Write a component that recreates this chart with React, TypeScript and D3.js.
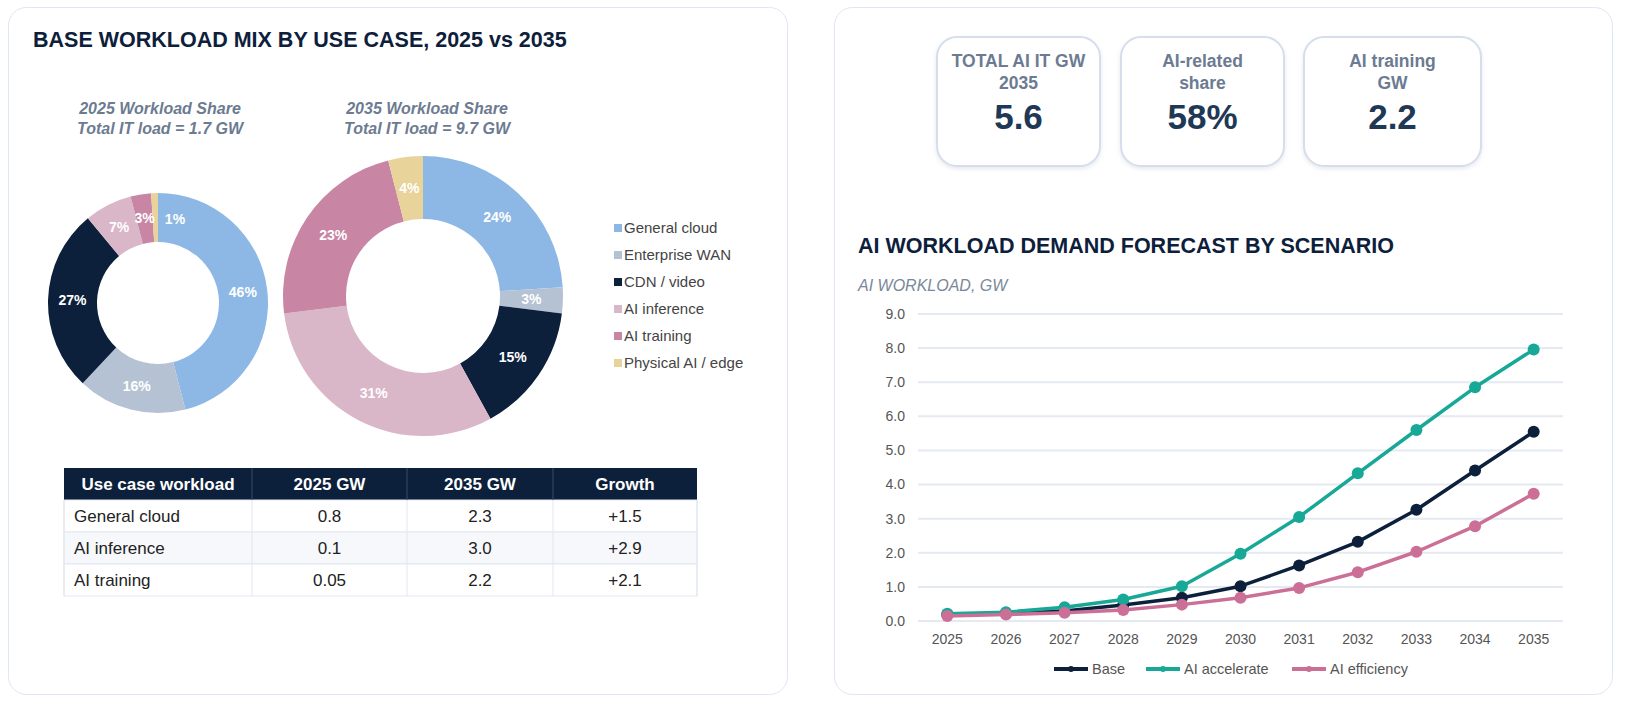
import React, { useEffect } from "react";
import * as d3 from "d3";

// workload mix by use case (percent of total IT load)
const useCases = ["General cloud", "Enterprise WAN", "CDN / video", "AI inference", "AI training", "Physical AI / edge"];
const share2025 = [46, 16, 27, 7, 3, 1];
const share2035 = [24, 3, 15, 31, 23, 4];
const caseColors = ["#8db8e5", "#b5c2d3", "#0d203b", "#d9b6c8", "#c886a4", "#e8d39a"];

// summary table
const tableHeader = ["Use case workload", "2025 GW", "2035 GW", "Growth"];
const tableCases = ["General cloud", "AI inference", "AI training"];
const tableGw2025 = ["0.8", "0.1", "0.05"];
const tableGw2035 = ["2.3", "3.0", "2.2"];
const tableGrowth = ["+1.5", "+2.9", "+2.1"];

// KPI cards
const kpiLabels = [["TOTAL AI IT GW", "2035"], ["AI-related", "share"], ["AI training", "GW"]];
const kpiValues = ["5.6", "58%", "2.2"];

// scenario forecast, GW
const years = ["2025", "2026", "2027", "2028", "2029", "2030", "2031", "2032", "2033", "2034", "2035"];
const baseGw = [0.19, 0.23, 0.29, 0.47, 0.68, 1.02, 1.63, 2.32, 3.26, 4.41, 5.55];
const accelGw = [0.21, 0.26, 0.4, 0.63, 1.02, 1.97, 3.05, 4.33, 5.6, 6.85, 7.96];
const effGw = [0.15, 0.19, 0.24, 0.32, 0.48, 0.68, 0.97, 1.43, 2.03, 2.78, 3.73];
const scenarioNames = ["Base", "AI accelerate", "AI efficiency"];
const scenarioColors = ["#0d203b", "#17a897", "#cb6f97"];

const FONT = "'Liberation Sans', Arial, Helvetica, sans-serif";
const NAVY = "#0d203b";
const SLATE = "#6c7b91";

function Donut({ values, cx, cy, outer, inner }: { values: number[]; cx: number; cy: number; outer: number; inner: number }) {
  const pie = d3.pie<number>().sort(null).value((d) => d);
  const arcs = pie(values);
  const arc = d3.arc<d3.PieArcDatum<number>>().innerRadius(inner).outerRadius(outer);
  const mid = (inner + outer) / 2;
  return (
    <g transform={`translate(${cx},${cy})`}>
      {arcs.map((a, i) => (
        <path key={i} d={arc(a) || ""} fill={caseColors[i]} />
      ))}
      {arcs.map((a, i) => {
        // tiny slices get their label nudged clockwise so it doesn't collide with the neighbour
        const ang = a.data < 2 ? a.endAngle + 0.2 : (a.startAngle + a.endAngle) / 2;
        const x = Math.sin(ang) * mid;
        const y = -Math.cos(ang) * mid;
        return (
          <text key={"l" + i} x={x} y={y} dy="0.35em" textAnchor="middle" fill="#fff" fontSize={14} fontWeight="bold">
            {a.data}%
          </text>
        );
      })}
    </g>
  );
}

function LeftPanel() {
  const colX = [64, 252, 407, 553, 697];
  const rowY = d3.range(5).map((i) => 468 + i * 32);
  const rows = tableCases.map((c, i) => [c, tableGw2025[i], tableGw2035[i], tableGrowth[i]]);
  return (
    <g>
      <rect x={8.5} y={7.5} width={779} height={687} rx={18} fill="#fff" stroke="#dfe7f2" />
      <text x={33} y={47} fontSize={21.5} fontWeight="bold" fill={NAVY}>
        BASE WORKLOAD MIX BY USE CASE, 2025 vs 2035
      </text>

      <g fill={SLATE} fontSize={16} fontWeight="bold" fontStyle="italic" textAnchor="middle">
        <text x={160} y={114}>2025 Workload Share</text>
        <text x={160} y={134}>Total IT load = 1.7 GW</text>
        <text x={427} y={114}>2035 Workload Share</text>
        <text x={427} y={134}>Total IT load = 9.7 GW</text>
      </g>

      <Donut values={share2025} cx={158} cy={303} outer={110} inner={61} />
      <Donut values={share2035} cx={423} cy={296} outer={140} inner={77} />

      <g fontSize={15} fill="#444">
        {useCases.map((u, i) => (
          <g key={u} transform={`translate(614,${228 + i * 27})`}>
            <rect x={0} y={-4} width={8} height={8} fill={caseColors[i]} />
            <text x={10} y={0} dy="0.35em">{u}</text>
          </g>
        ))}
      </g>

      <g>
        <rect x={colX[0]} y={rowY[0]} width={colX[4] - colX[0]} height={32} fill={NAVY} />
        {rows.map((r, i) => (
          <rect key={i} x={colX[0]} y={rowY[i + 1]} width={colX[4] - colX[0]} height={32} fill={i === 1 ? "#f6f8fc" : "#fff"} stroke="#e1e7f0" />
        ))}
        {colX.slice(1, 4).map((x, i) => (
          <g key={i}>
            <line x1={x} x2={x} y1={rowY[0]} y2={rowY[1]} stroke="#3a4b66" />
            <line x1={x} x2={x} y1={rowY[1]} y2={rowY[4]} stroke="#e1e7f0" />
          </g>
        ))}
        <line x1={colX[0]} x2={colX[0]} y1={rowY[1]} y2={rowY[4]} stroke="#e1e7f0" />
        <line x1={colX[4]} x2={colX[4]} y1={rowY[1]} y2={rowY[4]} stroke="#e1e7f0" />
        {tableHeader.map((h, j) => (
          <text key={h} x={(colX[j] + colX[j + 1]) / 2} y={rowY[0] + 16} dy="0.35em" textAnchor="middle" fontSize={17} fontWeight="bold" fill="#fff">
            {h}
          </text>
        ))}
        {rows.map((r, i) =>
          r.map((v, j) => (
            <text
              key={i + "-" + j}
              x={j === 0 ? colX[0] + 10 : (colX[j] + colX[j + 1]) / 2}
              y={rowY[i + 1] + 16}
              dy="0.35em"
              textAnchor={j === 0 ? "start" : "middle"}
              fontSize={17}
              fill="#222"
            >
              {v}
            </text>
          ))
        )}
      </g>
    </g>
  );
}

function RightPanel() {
  const cardX = [937, 1121, 1304];
  const cardW = [163, 163, 177];

  const x = d3.scalePoint<string>().domain(years).range([918, 1563]).padding(0.5);
  const y = d3.scaleLinear().domain([0, 9]).range([621, 314]);
  const ticks = d3.range(0, 10);
  const series = [baseGw, accelGw, effGw];
  const line = d3
    .line<number>()
    .x((_, i) => x(years[i]) as number)
    .y((d) => y(d));

  const legendX = [1054, 1146, 1292];

  return (
    <g>
      <defs>
        <filter id="cardShadow" x="-10%" y="-10%" width="120%" height="125%">
          <feDropShadow dx={0} dy={2} stdDeviation={2} floodColor="#9aa8bd" floodOpacity={0.25} />
        </filter>
      </defs>
      <rect x={834.5} y={7.5} width={778} height={687} rx={18} fill="#fff" stroke="#dfe7f2" />

      {kpiValues.map((v, i) => {
        const cx = cardX[i] + cardW[i] / 2;
        return (
          <g key={v}>
            <rect x={cardX[i]} y={37} width={cardW[i]} height={129} rx={20} fill="#fff" stroke="#d5dfec" strokeWidth={2} filter="url(#cardShadow)" />
            <text x={cx} y={66.5} textAnchor="middle" fontSize={17.5} fontWeight="bold" fill={SLATE}>{kpiLabels[i][0]}</text>
            <text x={cx} y={89} textAnchor="middle" fontSize={17.5} fontWeight="bold" fill={SLATE}>{kpiLabels[i][1]}</text>
            <text x={cx} y={129} textAnchor="middle" fontSize={35} fontWeight="bold" fill="#1f3855">{v}</text>
          </g>
        );
      })}

      <text x={858} y={253} fontSize={21.5} fontWeight="bold" fill={NAVY}>
        AI WORKLOAD DEMAND FORECAST BY SCENARIO
      </text>
      <text x={858} y={291} fontSize={16} fontStyle="italic" fill="#7a889b">
        AI WORKLOAD, GW
      </text>

      {ticks.map((t) => (
        <g key={t}>
          <line x1={918} x2={1563} y1={y(t)} y2={y(t)} stroke="#e4e9f2" strokeWidth={2} />
          <text x={905} y={y(t)} dy="0.35em" textAnchor="end" fontSize={14} fill="#555">
            {d3.format(".1f")(t)}
          </text>
        </g>
      ))}
      {years.map((yr) => (
        <text key={yr} x={x(yr)} y={639} dy="0.35em" textAnchor="middle" fontSize={14} fill="#555">
          {yr}
        </text>
      ))}

      {series.map((s, k) => (
        <g key={k}>
          <path d={line(s) || ""} fill="none" stroke={scenarioColors[k]} strokeWidth={3.5} strokeLinejoin="round" />
          {s.map((d, i) => (
            <circle key={i} cx={x(years[i])} cy={y(d)} r={6} fill={scenarioColors[k]} />
          ))}
        </g>
      ))}

      {scenarioNames.map((n, k) => (
        <g key={n} transform={`translate(${legendX[k]},669)`}>
          <line x1={0} x2={34} y1={0} y2={0} stroke={scenarioColors[k]} strokeWidth={4} />
          <circle cx={17} cy={0} r={3} fill={scenarioColors[k]} />
          <text x={38} y={0} dy="0.35em" fontSize={14.5} fill="#555">
            {n}
          </text>
        </g>
      ))}
    </g>
  );
}

export default function App() {
  useEffect(() => {
    document.body.style.margin = "0";
  }, []);
  return (
    <svg width={1626} height={703} style={{ display: "block", background: "#fff", fontFamily: FONT }}>
      <LeftPanel />
      <RightPanel />
    </svg>
  );
}
